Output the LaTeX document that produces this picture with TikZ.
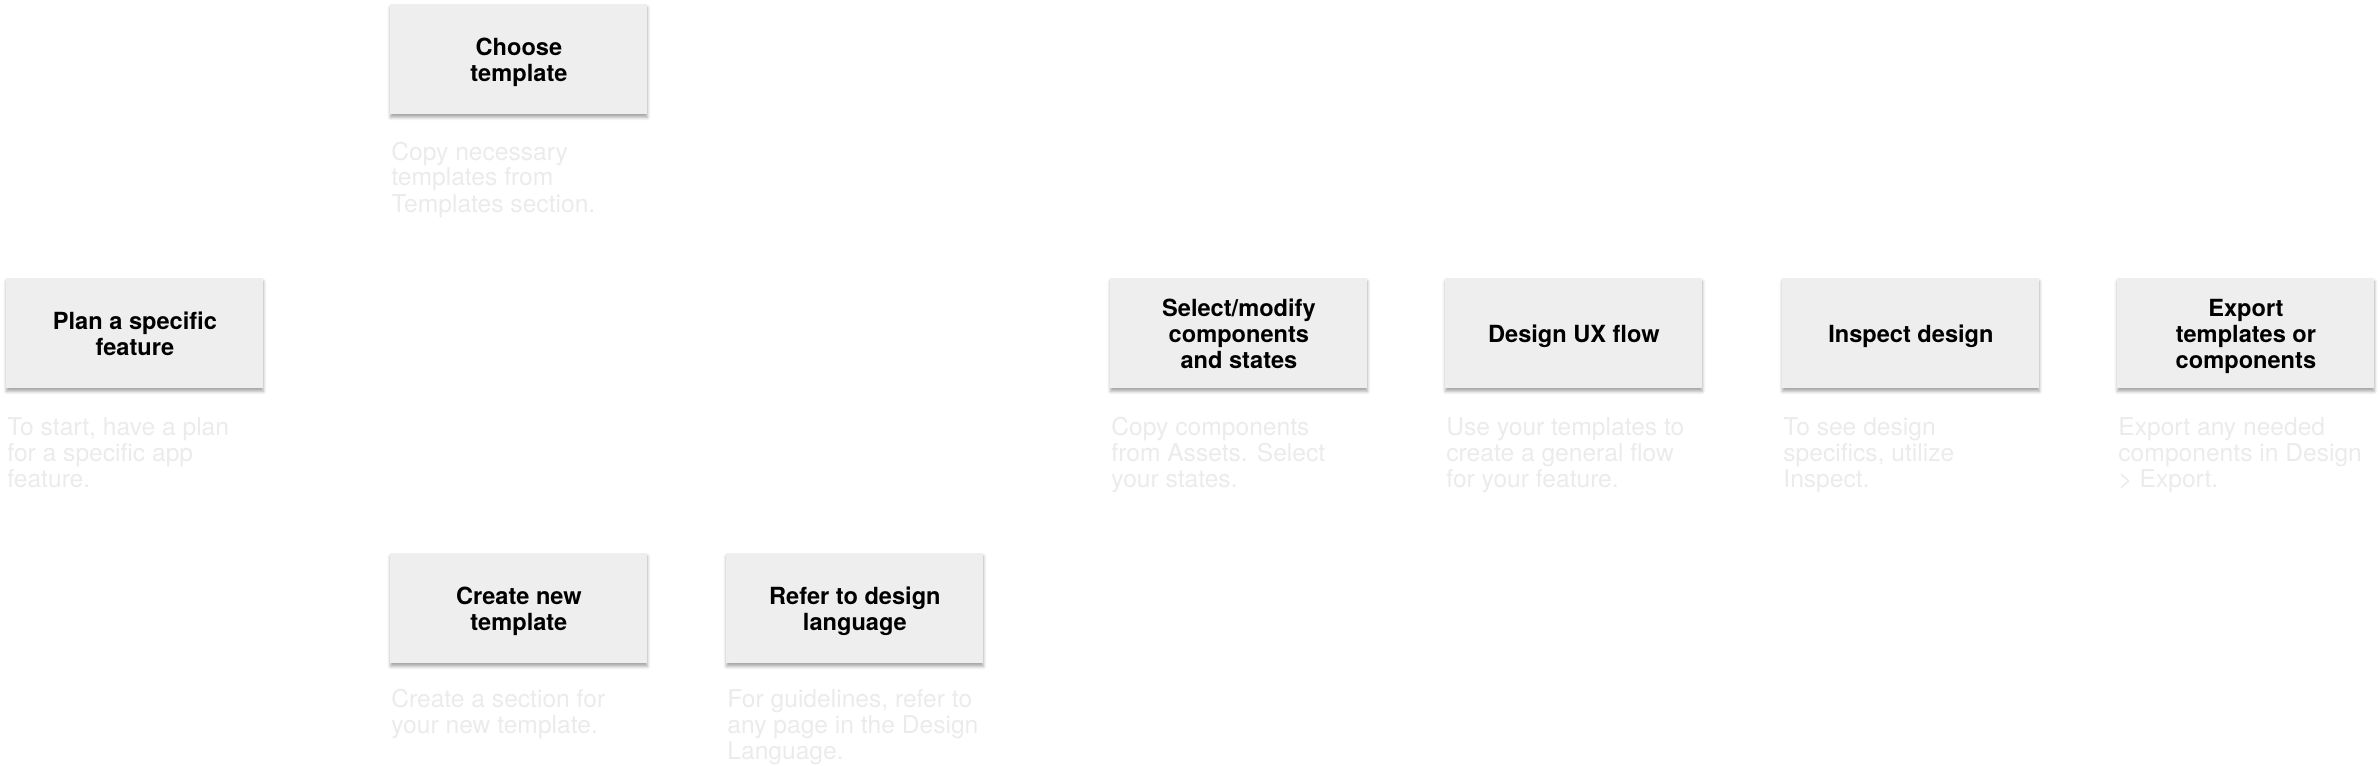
\documentclass[tikz,border=0pt]{standalone}
\usepackage{fontspec}
\setmainfont{TeX Gyre Heros}
\usetikzlibrary{shadows.blur}
\definecolor{boxfill}{HTML}{EEEEEE}
\definecolor{desc}{HTML}{EBEBEB}
\tikzset{
  stepbox/.style={anchor=north west, fill=boxfill, draw=none, inner sep=0pt,
    minimum width=128.5pt, minimum height=55pt, align=center, text depth=0pt,
    font=\fontsize{11.8pt}{13pt}\selectfont\bfseries, text=black,
    blur shadow={shadow xshift=0pt, shadow yshift=-1.5pt, shadow blur radius=1.5pt, shadow opacity=35}},
  desctext/.style={anchor=base west, inner sep=0pt, text=desc,
    font=\fontsize{12.3pt}{13pt}\selectfont}
}
\newcommand{\desclines}[1]{\parbox[t]{130pt}{\raggedright #1}}
\begin{document}
\begin{tikzpicture}[x=0.5pt,y=-0.5pt]
\useasboundingbox (0,0) rectangle (2380,765);
% boxes
\node[stepbox] (plan) at (6,278) {Plan a specific\\feature};
\node[stepbox] (choose) at (390,4) {Choose\\template};
\node[stepbox] (create) at (390,553) {Create new\\template};
\node[stepbox] (refer) at (726,553) {Refer to design\\language};
\node[stepbox] (select) at (1110,278) {Select/modify\\components\\and states};
\node[stepbox] (design) at (1445,278) {Design UX flow};
\node[stepbox] (inspect) at (1782,278) {Inspect design};
\node[stepbox] (export) at (2117,278) {Export\\templates or\\components};
% descriptions
\node[desctext] (plandesc) at (7,435) {\desclines{To start, have a plan\\for a specific app\\feature.}};
\node[desctext] (choosedesc) at (391,160) {\desclines{Copy necessary\\templates from\\Templates section.}};
\node[desctext] (createdesc) at (391,707) {\desclines{Create a section for\\your new template.}};
\node[desctext] (referdesc) at (727,707) {\desclines{For guidelines, refer to\\any page in the Design\\Language.}};
\node[desctext] (selectdesc) at (1111,435) {\desclines{Copy components\\from Assets. Select\\your states.}};
\node[desctext] (designdesc) at (1446,435) {\desclines{Use your templates to\\create a general flow\\for your feature.}};
\node[desctext] (inspectdesc) at (1783,435) {\desclines{To see design\\specifics, utilize\\Inspect.}};
\node[desctext] (exportdesc) at (2118,435) {\desclines{Export any needed\\components in Design\\> Export.}};
\end{tikzpicture}
\end{document}
